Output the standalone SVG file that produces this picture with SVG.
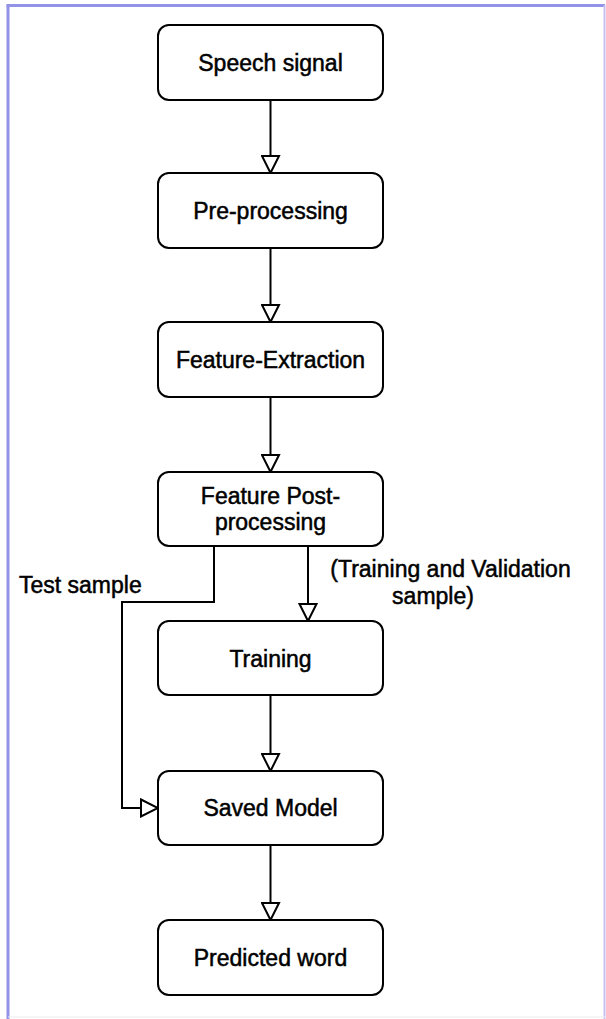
<svg xmlns="http://www.w3.org/2000/svg" width="606" height="1019" viewBox="0 0 606 1019">
<style>
.box{fill:#fff;stroke:#000;stroke-width:2}
.t{font-family:"Liberation Sans",Arial,sans-serif;font-size:23px;fill:#000;stroke:#000;stroke-width:0.5;text-anchor:middle}
.lbl{font-family:"Liberation Sans",Arial,sans-serif;font-size:23px;fill:#000;stroke:#000;stroke-width:0.5}
.c{fill:none;stroke:#000;stroke-width:2}
</style>
<defs>
<marker id="tri" markerUnits="userSpaceOnUse" markerWidth="20" markerHeight="20" viewBox="0 0 20 20" refX="18" refY="10" orient="auto">
<path d="M1,1.5 L18,10 L1,18.5 Z" fill="#fff" stroke="#000" stroke-width="2"/>
</marker>
</defs>
<rect width="606" height="1019" fill="#fff"/>
<g id="frame">
<line x1="6.5" y1="5.5" x2="605" y2="5.5" stroke="#9292e8" stroke-width="3"/>
<line x1="8" y1="5" x2="8" y2="1019" stroke="#9292e8" stroke-width="3"/>
<line x1="604.5" y1="5" x2="604.5" y2="1019" stroke="#c6bff0" stroke-width="2"/>
<line x1="8" y1="1017" x2="606" y2="1017" stroke="#ececf0" stroke-width="1"/>
</g>
<g id="connectors">
<line class="c" x1="270.5" y1="100" x2="270.5" y2="173" marker-end="url(#tri)"/>
<line class="c" x1="270.5" y1="248" x2="270.5" y2="322" marker-end="url(#tri)"/>
<line class="c" x1="270.5" y1="397" x2="270.5" y2="472" marker-end="url(#tri)"/>
<line class="c" x1="308" y1="546" x2="308" y2="621" marker-end="url(#tri)"/>
<polyline class="c" points="214,546 214,602 122,602 122,808 158,808" marker-end="url(#tri)"/>
<line class="c" x1="270.5" y1="695" x2="270.5" y2="771" marker-end="url(#tri)"/>
<line class="c" x1="270.5" y1="845" x2="270.5" y2="920" marker-end="url(#tri)"/>
<text class="lbl" x="19" y="593">Test sample</text>
<text class="lbl" x="450.5" y="577" text-anchor="middle">(Training and Validation</text>
<text class="lbl" x="433" y="604" text-anchor="middle">sample)</text>
</g>
<g id="n1"><rect class="box" x="158" y="25" width="225" height="75" rx="11"/><text class="t" x="270.5" y="71">Speech signal</text></g>
<g id="n2"><rect class="box" x="158" y="173" width="225" height="75" rx="11"/><text class="t" x="270.5" y="219">Pre-processing</text></g>
<g id="n3"><rect class="box" x="158" y="322" width="225" height="75" rx="11"/><text class="t" x="270.5" y="368">Feature-Extraction</text></g>
<g id="n4"><rect class="box" x="158" y="472" width="225" height="74" rx="11"/><text class="t" x="270.5" y="504">Feature Post-</text><text class="t" x="270.5" y="530">processing</text></g>
<g id="n5"><rect class="box" x="158" y="621" width="225" height="74" rx="11"/><text class="t" x="270.5" y="667">Training</text></g>
<g id="n6"><rect class="box" x="158" y="771" width="225" height="74" rx="11"/><text class="t" x="270.5" y="816">Saved Model</text></g>
<g id="n7"><rect class="box" x="158" y="920" width="225" height="75" rx="11"/><text class="t" x="270.5" y="966">Predicted word</text></g>
</svg>
